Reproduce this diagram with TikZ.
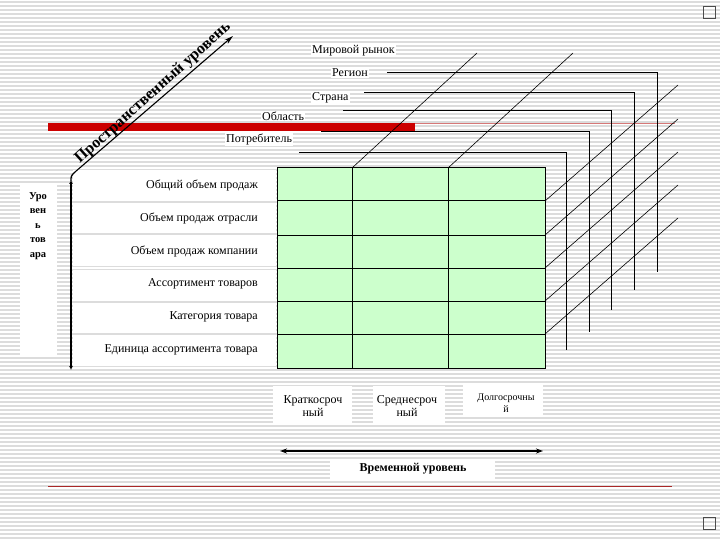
\documentclass[tikz,border=0pt]{standalone}
\usepackage{fontspec}
\setmainfont{Liberation Serif}
\usetikzlibrary{arrows.meta}
\definecolor{cellgreen}{RGB}{204,255,204}
\definecolor{stripegray}{RGB}{220,220,220}
\definecolor{barred}{RGB}{204,0,0}
\definecolor{thinred}{RGB}{214,120,120}
\definecolor{darkred}{RGB}{170,40,40}
\begin{document}
\begin{tikzpicture}[x=1pt,y=-1pt,
  stripe/.style={draw=stripegray,line width=1.1pt},
  lab/.style={inner sep=0pt,font=\fontsize{12}{13.5}\selectfont},
  toplab/.style={inner sep=1pt,fill=white,font=\fontsize{12}{13.5}\selectfont},
  cell/.style={draw=black,line width=1pt,fill=cellgreen},
  layer/.style={draw=black,line width=0.9pt},
  diag/.style={draw=black,line width=0.6pt},
  axisline/.style={draw=black,line width=1.8pt}]
\useasboundingbox (0,0) rectangle (720,540);
\fill[white] (0,0) rectangle (720,540);
\foreach \yy in {2,6,...,538} \draw[stripe] (0,\yy) -- (720,\yy);

% bullet squares
\draw[black!70,line width=0.8pt] (703,6) rectangle (715,18);
\draw[black!70,line width=0.8pt] (703,517) rectangle (715,529);

% row white boxes
\foreach \t/\b in {168/201,201/235,235/268,268/301,301/334,334/368}
  \fill[white] (73,\t+2) rectangle (276,\b-2);

% left label box
\fill[white] (20,183) rectangle (57,355);
\node[inner sep=0pt,anchor=north,align=center,font=\bfseries\fontsize{10.5}{14.5}\selectfont] (tovlab) at (38,192) {Уро\\вен\\ь\\тов\\ара};

% red bar
\fill[barred] (48,123) rectangle (415,131);
\draw[thinred,line width=0.8pt] (415,123) -- (675,123);
\draw[darkred,line width=0.9pt] (48,486) -- (672,486);

% top labels
\node[toplab,anchor=west] (world) at (311,51) {Мировой рынок};
\node[toplab,anchor=west] (region) at (331,73) {Регион};
\node[toplab,anchor=west] (country) at (311,98) {Страна};
\node[toplab,anchor=west] (oblast) at (261,116) {Область};
\node[toplab,anchor=west] (consumer) at (225,139) {Потребитель};

% layer lines
\foreach \sx/\yy/\ex/\by in {299/152/566/350,321/131/589/332,343/110/611/310,364/92/634/290,387/72/657/272}
  \draw[layer] (\sx,\yy) -- (\ex,\yy) -- (\ex,\by);

% table
\foreach \x/\xe in {277/352,352/448,448/545}
  \foreach \t/\b in {168/201,201/235,235/268,268/301,301/334,334/368}
    \draw[cell] (\x,\t) rectangle (\xe,\b);
\coordinate (c1) at (352,168);
\coordinate (c2) at (448,168);

% diagonals
\draw[diag] (c1) -- (477,53);
\draw[diag] (c2) -- (573,53);
\foreach \yy in {201,235,268,301,334}
  \draw[diag] (545,\yy) -- (678,\yy-116);

% row labels
\node[lab,anchor=east] (r1) at (258,185) {Общий объем продаж};
\node[lab,anchor=east] (r2) at (258,218) {Объем продаж отрасли};
\node[lab,anchor=east] (r3) at (258,251) {Объем продаж компании};
\node[lab,anchor=east] (r4) at (258,284) {Ассортимент товаров};
\node[lab,anchor=east] (r5) at (258,317) {Категория товара};
\node[lab,anchor=east] (r6) at (258,350) {Единица ассортимента товара};

% vertical axis and spatial axis
\coordinate (vb) at (71,370);
\coordinate (vt) at (71,180);
\coordinate (dstart) at (75,172);
\coordinate (dt) at (233,36);
\draw[axisline,{Latex[length=4pt,width=4pt]}-{Latex[length=4pt,width=4pt]}] (vt) -- (vb);
\draw[black,line width=1.3pt] (71,181) .. controls (71,176) .. (dstart);
\draw[black,line width=1.1pt,-{Stealth[length=9pt,width=5pt]}] (dstart) -- (dt);
\node[inner sep=0pt,rotate=42,font=\bfseries\fontsize{16}{18}\selectfont] (spatial) at (153,93) {Пространственный уровень};

% time labels
\fill[white] (273,386) rectangle (352,423);
\fill[white] (373,386) rectangle (445,423);
\fill[white] (463,384) rectangle (543,417);
\node[lab,align=center] (short) at (313,406) {Краткосроч\\ный};
\node[lab,align=center] (mid) at (407,406) {Среднесроч\\ный};
\node[inner sep=0pt,align=center,font=\fontsize{10}{11.5}\selectfont] (long) at (506,403) {Долгосрочны\\й};

\coordinate (tl) at (280,451);
\coordinate (tr) at (543,451);
\draw[axisline,{Stealth[length=7pt,width=5pt]}-{Stealth[length=7pt,width=5pt]}] (tl) -- (tr);
\fill[white] (330,459) rectangle (495,480);
\node[inner sep=0pt,font=\bfseries\fontsize{12}{14}\selectfont] (timelab) at (413,469) {Временной уровень};
\end{tikzpicture}
\end{document}
